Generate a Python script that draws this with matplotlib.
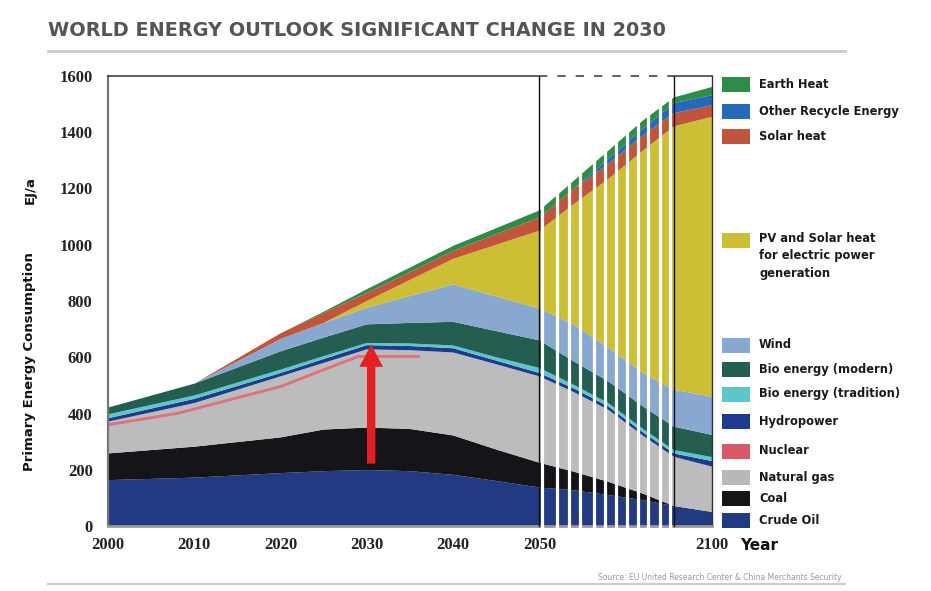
import numpy as np
import matplotlib
matplotlib.use("Agg")
import matplotlib.pyplot as plt
from matplotlib.patches import Rectangle
from matplotlib.lines import Line2D

# values (EJ/a, thickness of each layer)
years = [2000, 2010, 2020, 2025, 2030, 2035, 2040, 2045, 2050, 2060, 2070, 2080, 2089, 2100]

crude_oil   = [163, 172, 188, 195, 199, 195, 182, 160, 137, 127, 110, 92, 71, 50]
coal        = [95, 110, 127, 148, 151, 150, 140, 112, 88, 66, 47, 23, 0, 0]
natural_gas = [113, 155, 217, 237, 278, 280, 295, 303, 307, 283, 256, 206, 175, 161]
hydropower  = [12, 15, 12, 14, 15, 15, 15, 13, 12, 13, 12, 12, 12, 20]
bio_trad    = [14, 12, 12, 10, 8, 9, 10, 12, 18, 13, 12, 12, 12, 14]
bio_modern  = [24, 42, 65, 66, 66, 73, 84, 93, 98, 83, 77, 80, 83, 79]
wind        = [0, 0, 44, 52, 59, 96, 133, 123, 113, 131, 119, 119, 131, 136]
pv          = [0, 0, 0, 0, 24, 57, 91, 184, 277, 429, 601, 791, 937, 995]
solar_heat  = [0, 0, 20, 35, 29, 28, 28, 38, 47, 54, 54, 54, 47, 41]
other_recyc = [0, 0, 0, 0, 0, 0, 0, 0, 0, 0, 18, 24, 36, 36]
earth_heat  = [0, 0, 0, 5, 13, 16, 18, 21, 25, 29, 29, 29, 20, 29]

# nuclear is drawn as a thin line over the gas layer
nuclear_years = [2000, 2008, 2020, 2029, 2036]
nuclear_line  = [360, 400, 496, 603, 603]

stripe_years = [2050.8, 2055.1, 2058.5, 2061.8, 2065.7, 2069.1,
                2072.3, 2075.5, 2078.7, 2081.6, 2084.8, 2087.9]

x_ticks = [2000, 2010, 2020, 2030, 2040, 2050, 2100]
y_ticks = [0, 200, 400, 600, 800, 1000, 1200, 1400, 1600]

legend_labels = ["Earth Heat", "Other Recycle Energy", "Solar heat",
                 "PV and Solar heat\nfor electric power\ngeneration",
                 "Wind", "Bio energy (modern)", "Bio energy (tradition)",
                 "Hydropower", "Nuclear", "Natural gas", "Coal", "Crude Oil"]

# styles
layer_colors = ["#213a82", "#151519", "#bcbcbc", "#1d3a8c", "#5cc6ca", "#235e50",
                "#89a8d0", "#cdbf35", "#c0553b", "#2569bb", "#2f8b45"]
legend_colors = ["#2f8b45", "#2569bb", "#c0553b", "#cdbf35", "#89a8d0", "#235e50",
                 "#5cc6ca", "#1d3a8c", "#d9596a", "#b8b8b8", "#151519", "#213a82"]
legend_y = [84, 111, 136, 241, 345, 369, 394, 421, 451, 477, 498, 520]

SPLIT = 2050
SQUEEZE = 0.4


def fwd(x):
    x = np.asarray(x, float)
    return np.where(x <= SPLIT, x, SPLIT + (x - SPLIT) * SQUEEZE)


def inv(x):
    x = np.asarray(x, float)
    return np.where(x <= SPLIT, x, SPLIT + (x - SPLIT) / SQUEEZE)


W, H = 931, 591
fig = plt.figure(figsize=(W / 100, H / 100), dpi=100)
fig.patch.set_facecolor("white")

ax = fig.add_axes([108 / W, 1 - 526 / H, (712 - 108) / W, 450 / H])
ax.set_xscale("function", functions=(fwd, inv))

layers = [crude_oil, coal, natural_gas, hydropower, bio_trad, bio_modern,
          wind, pv, solar_heat, other_recyc, earth_heat]
ax.stackplot(years, *layers, colors=layer_colors, linewidth=0, zorder=1)
ax.plot(nuclear_years, nuclear_line, color="#e0707a", lw=2, zorder=2)

ax.set_xlim(2000, 2100)
ax.set_ylim(0, 1600)

# white stripes through the 2050-2090 section
for yr in stripe_years:
    ax.axvline(yr, color="white", lw=2.3, zorder=4, clip_on=False)

ax.axvline(2050, color="#111111", lw=1.0, zorder=5, clip_on=False)
ax.axvline(2089, color="#111111", lw=1.0, zorder=5, clip_on=False)

# top frame: solid, dashed over the stripes, solid again
ax.spines["top"].set_visible(False)
ax.plot([2000, 2050], [1600, 1600], color="#444444", lw=1.2, clip_on=False, zorder=5)
ax.plot([2050, 2089], [1600, 1600], color="#444444", lw=1.2, dashes=(5, 6),
        clip_on=False, zorder=5)
ax.plot([2089, 2100], [1600, 1600], color="#444444", lw=1.2, clip_on=False, zorder=5)
ax.spines["left"].set_color("#777777")
ax.spines["left"].set_linewidth(1.6)
ax.spines["right"].set_color("#333333")
ax.spines["right"].set_linewidth(1.0)
ax.spines["bottom"].set_color("#999999")
ax.spines["bottom"].set_linewidth(2.0)

# red arrow at 2030
ax.annotate("", xy=(2030.5, 645), xytext=(2030.5, 222),
            arrowprops=dict(facecolor="#e3201f", edgecolor="none",
                            width=6, headwidth=17, headlength=16, shrink=0),
            zorder=6)

ax.set_xticks(x_ticks)
ax.set_xticklabels([str(t) for t in x_ticks])
ax.set_yticks(y_ticks)
ax.set_yticklabels([str(t) for t in y_ticks])
ax.tick_params(axis="both", length=0, labelsize=12)
ax.tick_params(axis="x", pad=8)
ax.tick_params(axis="y", pad=11)
for lab in ax.get_xticklabels() + ax.get_yticklabels():
    lab.set_fontfamily(["Liberation Serif", "DejaVu Serif"])
    lab.set_fontweight("bold")
    lab.set_color("#222222")

# title and rules
fig.text(48 / W, 1 - 31 / H, "WORLD ENERGY OUTLOOK SIGNIFICANT CHANGE IN 2030",
         ha="left", va="center", fontsize=13.9, fontweight="bold", color="#555555")
fig.add_artist(Line2D([48 / W, 845 / W], [1 - 51 / H] * 2, color="#cccccc", lw=2))
fig.add_artist(Line2D([48 / W, 845 / W], [1 - 584 / H] * 2, color="#cccccc", lw=1.5))
fig.text(842 / W, 1 - 577 / H,
         "Source: EU United Research Center & China Merchants Security",
         ha="right", va="center", fontsize=5.5, color="#999999")

# axis titles
fig.text(30 / W, 1 - 362 / H, "Primary Energy Consumption", rotation=90,
         ha="center", va="center", fontsize=9.5, fontweight="bold", color="#111111")
fig.text(30 / W, 1 - 190 / H, "EJ/a", rotation=90,
         ha="center", va="center", fontsize=9.5, fontweight="bold", color="#111111")
fig.text(740 / W, 1 - 546 / H, "Year", ha="left", va="center",
         fontsize=11, fontweight="bold", color="#111111")

# legend on the right
for lab, col, yc in zip(legend_labels, legend_colors, legend_y):
    fig.add_artist(Rectangle((722 / W, 1 - (yc + 7.5) / H), 28 / W, 15 / H,
                             facecolor=col, edgecolor="none"))
    if "\n" in lab:
        fig.text(759 / W, 1 - (yc - 9) / H, lab, ha="left", va="top",
                 fontsize=8.3, fontweight="bold", color="#1a1a1a", linespacing=1.45)
    else:
        fig.text(759 / W, 1 - yc / H, lab, ha="left", va="center",
                 fontsize=8.3, fontweight="bold", color="#1a1a1a")

fig.savefig("out.png", dpi=100)
